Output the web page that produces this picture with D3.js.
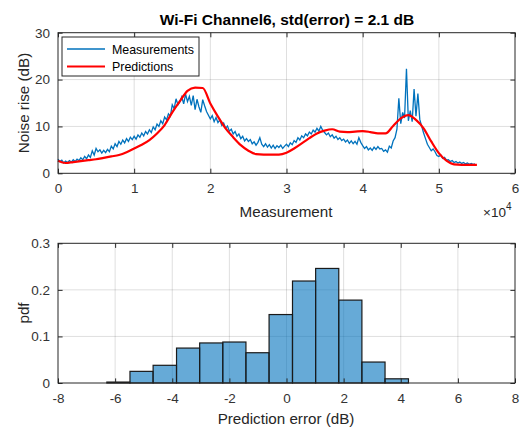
<!doctype html>
<html lang='en'>
<head>
<meta charset='UTF-8'>
<title>Wi-Fi Channel6</title>
<style>
  body { margin: 0; background: #fff; }
  svg { display: block; font-family: 'Liberation Sans', Arial, sans-serif; }
  .tick text { fill: #333; font-size: 13.5px; }
  .tick line { stroke: #262626; }
</style>
</head>
<body>
<script src='https://d3js.org/d3.v7.min.js'></script>
<script>
  // measured noise rise, one value every 250 samples
  const measStep = 250
  const measurements = [
    3.0, 2.5, 2.8, 2.2, 2.6, 2.3, 2.7, 2.4, 2.9, 2.5,
    3.0, 2.7, 3.3, 2.9, 3.6, 3.1, 3.9, 3.4, 4.8, 3.9,
    5.3, 4.6, 5.0, 4.3, 4.9, 4.4, 5.1, 4.6, 5.8, 5.2,
    6.3, 5.7, 6.8, 6.2, 7.1, 6.5, 7.4, 6.8, 7.7, 7.2,
    7.9, 7.3, 8.2, 7.7, 8.6, 8.0, 8.9, 8.4, 9.3, 8.7,
    9.9, 9.3, 10.5, 10.0, 11.2, 10.6, 12.0, 11.4, 12.7, 12.2,
    14.6, 13.8, 15.9, 14.6, 15.2, 16.3, 14.8, 16.9, 15.3, 16.4,
    14.5, 16.6, 13.6, 15.8, 14.2, 13.0, 15.7, 14.4, 13.2, 12.4,
    11.6, 12.3, 11.0, 11.9, 10.8, 11.4, 10.2, 10.7, 9.6, 10.1,
    9.0, 9.4, 8.4, 8.9, 7.9, 8.4, 7.4, 7.9, 6.9, 7.4,
    6.8, 7.2, 6.3, 6.7, 6.0, 6.6, 7.6, 6.2, 5.7, 6.3,
    5.6, 6.1, 5.4, 6.0, 5.3, 5.9, 5.5, 6.0, 5.3, 5.8,
    6.2, 5.7, 6.5, 6.1, 7.0, 6.6, 7.6, 7.1, 8.0, 7.6,
    8.4, 8.0, 8.8, 8.4, 9.2, 8.8, 9.6, 9.0, 10.0, 9.2,
    8.7, 8.2, 8.6, 7.8, 8.2, 7.5, 7.9, 7.2, 7.6, 7.0,
    7.3, 6.7, 7.1, 6.4, 6.9, 6.3, 6.8, 6.2, 7.6, 6.6,
    5.9, 5.3, 5.7, 5.0, 5.4, 4.9, 5.6, 5.1, 5.7, 5.2,
    5.3, 4.7, 5.0, 4.5, 5.8, 5.4, 6.9, 7.6, 9.4, 16.0,
    10.6, 13.0, 11.8, 22.3, 11.2, 13.4, 11.0, 18.0, 12.2, 17.0,
    11.5, 10.0, 8.6, 7.4, 6.2, 5.5, 4.8, 5.2, 4.6, 3.8,
    3.6, 3.9, 3.2, 3.4, 2.8, 2.9, 2.5, 2.7, 2.3, 2.5,
    2.2, 2.4, 2.1, 2.3, 2.0, 2.2, 1.9, 2.1, 1.9, 2.0
  ]

  // predicted noise rise, one value every 1000 samples
  const predStep = 1000
  const predictions = [
    2.7, 2.2, 2.4, 2.6, 2.8, 3.0, 3.3, 3.6, 3.9, 4.5,
    5.3, 6.1, 7.1, 8.5, 10.3, 13.0, 15.4, 17.6, 18.3, 18.2,
    14.9, 12.1, 9.6, 7.7, 6.0, 4.8, 4.1, 4.0, 4.0, 4.0,
    4.4, 5.3, 6.4, 7.5, 8.5, 9.1, 9.4, 8.9, 8.8, 8.9,
    9.0, 8.8, 8.5, 8.5, 10.1, 11.7, 12.4, 11.4, 9.6, 6.8,
    4.3, 2.7, 1.9, 1.8, 1.8, 1.8
  ]

  // histogram of prediction error
  const binEdges = [-6.29, -5.48, -4.67, -3.85, -3.04, -2.23, -1.42, -0.61, 0.21, 1.02, 1.83, 2.64, 3.45, 4.27]
  const pdfValues = [0.002, 0.025, 0.038, 0.075, 0.086, 0.088, 0.065, 0.147, 0.219, 0.246, 0.178, 0.045, 0.009]

  const topXTicks = [0, 10000, 20000, 30000, 40000, 50000, 60000]
  const topYTicks = [0, 10, 20, 30]
  const errTicks = [-8, -6, -4, -2, 0, 2, 4, 6, 8]
  const pdfTicks = [0, 0.1, 0.2, 0.3]

  const W = 522
  const H = 427
  const tk = 4.6

  const svg = d3.select('body').append('svg')
    .attr('width', W)
    .attr('height', H)

  svg.append('rect').attr('width', W).attr('height', H).attr('fill', '#fff')

  function drawGrid(g, x, y, xTicks, yTicks) {
    const [x0, x1] = x.range()
    const [y0, y1] = y.range()

    g.append('g').selectAll('line').data(xTicks.slice(1, -1)).enter().append('line')
      .attr('x1', d => x(d)).attr('x2', d => x(d))
      .attr('y1', y0).attr('y2', y1)
      .attr('stroke', '#262626').attr('stroke-opacity', 0.15)
    g.append('g').selectAll('line').data(yTicks.slice(1, -1)).enter().append('line')
      .attr('x1', x0).attr('x2', x1)
      .attr('y1', d => y(d)).attr('y2', d => y(d))
      .attr('stroke', '#262626').attr('stroke-opacity', 0.15)
  }

  function drawFrame(g, x, y, xTicks, yTicks, xFmt, yFmt) {
    const [x0, x1] = x.range()
    const [y0, y1] = y.range()

    g.append('g')
      .attr('transform', `translate(0,${y0})`)
      .call(d3.axisBottom(x).tickValues(xTicks).tickSize(-tk).tickPadding(10).tickFormat(xFmt))
      .call(a => a.select('.domain').remove())
    g.append('g')
      .attr('transform', `translate(0,${y1})`)
      .call(d3.axisTop(x).tickValues(xTicks).tickSize(-tk).tickFormat(''))
      .call(a => a.select('.domain').remove())
    g.append('g')
      .attr('transform', `translate(${x0},0)`)
      .call(d3.axisLeft(y).tickValues(yTicks).tickSize(-tk).tickPadding(8).tickFormat(yFmt))
      .call(a => a.select('.domain').remove())
    g.append('g')
      .attr('transform', `translate(${x1},0)`)
      .call(d3.axisRight(y).tickValues(yTicks).tickSize(-tk).tickFormat(''))
      .call(a => a.select('.domain').remove())

    g.append('rect')
      .attr('x', x0).attr('y', y1)
      .attr('width', x1 - x0).attr('height', y0 - y1)
      .attr('fill', 'none').attr('stroke', '#262626').attr('stroke-width', 1)
  }

  /******************** top: noise rise ******************/

  const xTop = d3.scaleLinear().domain([0, 60000]).range([58, 515])
  const yTop = d3.scaleLinear().domain([0, 30]).range([173.3, 32.7])
  const gTop = svg.append('g')

  drawGrid(gTop, xTop, yTop, topXTicks, topYTicks)

  gTop.append('path')
    .datum(measurements)
    .attr('fill', 'none')
    .attr('stroke', '#0072BD')
    .attr('stroke-width', 1.3)
    .attr('d', d3.line().x((d, i) => xTop(i * measStep)).y(d => yTop(d)))

  gTop.append('path')
    .datum(predictions)
    .attr('fill', 'none')
    .attr('stroke', '#ff0000')
    .attr('stroke-width', 2.2)
    .attr('d', d3.line().curve(d3.curveMonotoneX).x((d, i) => xTop(i * predStep)).y(d => yTop(d)))

  drawFrame(gTop, xTop, yTop, topXTicks, topYTicks, d => d / 10000, d => d)

  // legend
  const leg = gTop.append('g')
  leg.append('rect')
    .attr('x', 62).attr('y', 37).attr('width', 137).attr('height', 39)
    .attr('fill', '#fff').attr('stroke', '#262626')
  const legItems = [
    { name: 'Measurements', color: '#0072BD', w: 1.3 },
    { name: 'Predictions', color: '#ff0000', w: 2.2 }
  ]
  legItems.forEach((it, i) => {
    const yy = 49 + i * 17.5
    leg.append('line').attr('x1', 67).attr('x2', 105).attr('y1', yy).attr('y2', yy)
      .attr('stroke', it.color).attr('stroke-width', it.w)
    leg.append('text').attr('x', 112).attr('y', yy + 4.5)
      .attr('font-size', '12.4px').attr('fill', '#000').text(it.name)
  })

  svg.append('text')
    .attr('x', 287).attr('y', 25)
    .attr('text-anchor', 'middle')
    .attr('font-size', '15.5px').attr('font-weight', 'bold').attr('fill', '#000')
    .text('Wi-Fi Channel6, std(error) = 2.1 dB')

  svg.append('text')
    .attr('x', 286).attr('y', 217)
    .attr('text-anchor', 'middle')
    .attr('font-size', '15.2px').attr('fill', '#262626')
    .text('Measurement')

  const ex = svg.append('text')
    .attr('x', 483).attr('y', 217)
    .attr('font-size', '13.5px').attr('fill', '#262626')
  ex.append('tspan').text('×10')
  ex.append('tspan').attr('dy', -7).attr('font-size', '10px').text('4')

  svg.append('text')
    .attr('transform', 'translate(29,103) rotate(-90)')
    .attr('text-anchor', 'middle')
    .attr('font-size', '15.2px').attr('fill', '#262626')
    .text('Noise rise (dB)')

  /******************** bottom: error pdf ******************/

  const xBot = d3.scaleLinear().domain([-8, 8]).range([58, 515])
  const yBot = d3.scaleLinear().domain([0, 0.3]).range([383, 243.3])
  const gBot = svg.append('g')

  drawGrid(gBot, xBot, yBot, errTicks, pdfTicks)

  gBot.selectAll('rect.bar')
    .data(pdfValues)
    .enter()
    .append('rect')
    .attr('class', 'bar')
    .attr('x', (d, i) => xBot(binEdges[i]))
    .attr('width', (d, i) => xBot(binEdges[i + 1]) - xBot(binEdges[i]))
    .attr('y', d => yBot(d))
    .attr('height', d => yBot(0) - yBot(d))
    .attr('fill', '#0072BD').attr('fill-opacity', 0.6)
    .attr('stroke', '#1a1a1a').attr('stroke-width', 1.2)

  drawFrame(gBot, xBot, yBot, errTicks, pdfTicks, d => d, d => d)

  svg.append('text')
    .attr('x', 286).attr('y', 424)
    .attr('text-anchor', 'middle')
    .attr('font-size', '15.2px').attr('fill', '#262626')
    .text('Prediction error (dB)')

  svg.append('text')
    .attr('transform', 'translate(29,313) rotate(-90)')
    .attr('text-anchor', 'middle')
    .attr('font-size', '15.2px').attr('fill', '#262626')
    .text('pdf')
</script>
</body>
</html>
